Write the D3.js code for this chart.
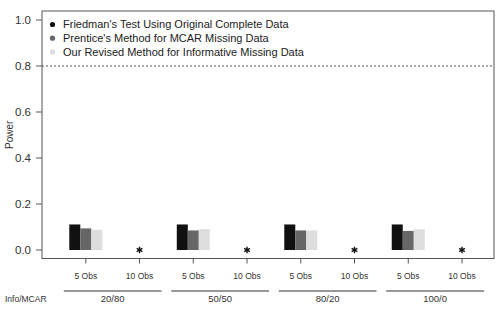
<!DOCTYPE html>
<html>
<head>
<meta charset="utf-8">
<script src="https://cdn.jsdelivr.net/npm/d3@7"></script>
<style>
  body { margin: 0; background: #fff; }
  text { font-family: "Liberation Sans", Arial, sans-serif; }
</style>
</head>
<body>
<svg width="496" height="309"></svg>
<script>
// Data
const groups = ["20/80", "50/50", "80/20", "100/0"];
const obsLabels = ["5 Obs", "10 Obs"];
const seriesNames = [
  "Friedman's Test Using Original Complete Data",
  "Prentice's Method for MCAR Missing Data",
  "Our Revised Method for Informative Missing Data"
];
const seriesColors = ["#111111", "#666666", "#dddddd"];
// power for 5 Obs per group (10 Obs has no value; drawn as asterisk at 0)
const friedman5 = [0.111, 0.111, 0.111, 0.111];
const prentice5 = [0.094, 0.085, 0.085, 0.083];
const revised5 = [0.088, 0.091, 0.085, 0.090];
const yTicks = [0.0, 0.2, 0.4, 0.6, 0.8, 1.0];
const refLine = 0.8;

const svg = d3.select("svg");
const boxL = 42, boxR = 494, boxT = 11, boxB = 258.5;

// Scales
const y = d3.scaleLinear().domain([0, 1]).range([250, 20]);
const slots = [];
groups.forEach(g => obsLabels.forEach(o => slots.push(g + "|" + o)));
const x = d3.scalePoint().domain(slots).range([85.8, 462]);
const sub = d3.scaleBand().domain(seriesNames).range([-16.5, 16.5]);

// Plot box
svg.append("rect")
  .attr("x", boxL).attr("y", boxT)
  .attr("width", boxR - boxL).attr("height", boxB - boxT)
  .attr("fill", "none").attr("stroke", "#555").attr("stroke-width", 1);

// Y axis
const yAxis = svg.append("g");
yTicks.forEach(t => {
  yAxis.append("line")
    .attr("x1", 36).attr("x2", boxL)
    .attr("y1", y(t)).attr("y2", y(t))
    .attr("stroke", "#555");
  yAxis.append("text")
    .attr("x", 31).attr("y", y(t)).attr("dy", "0.35em")
    .attr("text-anchor", "end").attr("font-size", 11.5).attr("fill", "#333")
    .text(t.toFixed(1));
});
svg.append("text")
  .attr("transform", `translate(13,${(boxT + boxB) / 2}) rotate(-90)`)
  .attr("text-anchor", "middle").attr("font-size", 10).attr("fill", "#333")
  .text("Power");

// Reference line
svg.append("line")
  .attr("x1", boxL).attr("x2", boxR)
  .attr("y1", y(refLine)).attr("y2", y(refLine))
  .attr("stroke", "#555").attr("stroke-dasharray", "2,2");

// Bars
const vals = [friedman5, prentice5, revised5];
groups.forEach((g, gi) => {
  const cx = x(g + "|5 Obs");
  seriesNames.forEach((s, si) => {
    svg.append("rect")
      .attr("x", cx + sub(s)).attr("width", sub.bandwidth())
      .attr("y", y(vals[si][gi])).attr("height", y(0) - y(vals[si][gi]))
      .attr("fill", seriesColors[si]);
  });
  // 10 Obs: asterisk
  svg.append("path")
    .attr("transform", `translate(${x(g + "|10 Obs")},${y(0)})`)
    .attr("d", d3.symbol(d3.symbolAsterisk, 30)())
    .attr("stroke", "#111").attr("stroke-width", 1.4).attr("fill", "none");
});

// X ticks and labels
slots.forEach(s => {
  svg.append("line")
    .attr("x1", x(s)).attr("x2", x(s))
    .attr("y1", boxB).attr("y2", boxB + 5)
    .attr("stroke", "#555");
  svg.append("text")
    .attr("x", x(s)).attr("y", 279)
    .attr("text-anchor", "middle").attr("font-size", 8.5).attr("fill", "#333")
    .text(s.split("|")[1]);
});

// Group brackets
groups.forEach(g => {
  const a = x(g + "|5 Obs") - 22, b = x(g + "|10 Obs") + 22;
  svg.append("line")
    .attr("x1", a).attr("x2", b).attr("y1", 291).attr("y2", 291)
    .attr("stroke", "#333");
  svg.append("text")
    .attr("x", (a + b) / 2).attr("y", 302)
    .attr("text-anchor", "middle").attr("font-size", 9.5).attr("fill", "#333")
    .text(g);
});
svg.append("text")
  .attr("x", 5).attr("y", 302).attr("font-size", 8.5).attr("fill", "#333")
  .text("Info/MCAR");

// Legend
seriesNames.forEach((s, i) => {
  const ly = 24.5 + i * 13.7;
  svg.append("circle")
    .attr("cx", 52.5).attr("cy", ly).attr("r", 2.6)
    .attr("fill", seriesColors[i]);
  svg.append("text")
    .attr("x", 63).attr("y", ly).attr("dy", "0.35em")
    .attr("font-size", 11).attr("fill", "#222")
    .text(s);
});
</script>
</body>
</html>
